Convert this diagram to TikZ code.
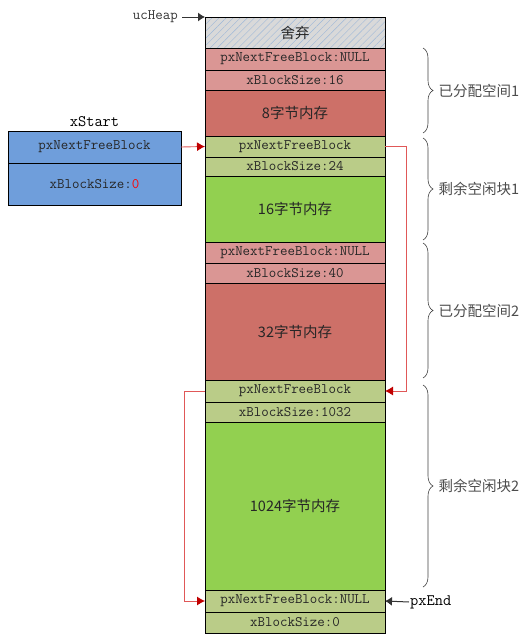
\documentclass[tikz,border=0pt]{standalone}
\usepackage{fontspec}
\renewcommand{\familydefault}{\ttdefault}
\newfontfamily\cjk{Noto Sans CJK SC}
\usetikzlibrary{positioning,patterns.meta,decorations.pathreplacing,arrows.meta}

\definecolor{wastegray}{HTML}{D9D9D9}
\definecolor{hatchblue}{HTML}{9DB7D8}
\definecolor{usedhdr}{HTML}{DA9694}
\definecolor{usedmem}{HTML}{CD7068}
\definecolor{freehdr}{HTML}{BACC88}
\definecolor{freemem}{HTML}{92D050}
\definecolor{startblue}{HTML}{6F9EDB}
\definecolor{linkred}{HTML}{E05858}
\definecolor{tipred}{HTML}{C00000}

\tikzset{
  cell/.style={draw,line width=0.8pt,minimum width=180pt,inner sep=0pt,outer sep=0pt,
    text=black!85,font=\fontsize{14.5}{16}\selectfont},
  startcell/.style={cell,minimum width=173pt,fill=startblue},
  memtext/.style={font=\cjk\fontsize{14.5}{16}\selectfont},
  brace/.style={decorate,decoration={brace,amplitude=10pt},draw=black!75,line width=0.6pt},
  spacelbl/.style={right=12pt,text=black!70,font=\cjk\fontsize{14.5}{16}\selectfont},
  link/.style={draw=linkred,line width=0.9pt,-{Latex[length=8pt,width=9pt,color=tipred]}},
  ptr/.style={draw=black!80,line width=1pt,-{Latex[length=7pt,width=9pt]}}
}

\begin{document}
\begin{tikzpicture}[x=1pt,y=-1pt]
\useasboundingbox (0,0) rectangle (531,640);

% heap
\node[cell,anchor=north,minimum height=31pt,memtext,
  preaction={fill=wastegray},pattern={Lines[angle=45,distance=5pt,line width=0.4pt]},
  pattern color=hatchblue] (waste) at (295,17) {舍弃};
\node[cell,fill=usedhdr,minimum height=22pt,below=0pt of waste] (used1hdr) {pxNextFreeBlock:NULL};
\node[cell,fill=usedhdr,minimum height=20pt,below=0pt of used1hdr] (used1size) {xBlockSize:16};
\node[cell,fill=usedmem,minimum height=46pt,memtext,below=0pt of used1size] (used1mem) {8字节内存};
\node[cell,fill=freehdr,minimum height=21pt,below=0pt of used1mem] (free1hdr) {pxNextFreeBlock};
\node[cell,fill=freehdr,minimum height=19pt,below=0pt of free1hdr] (free1size) {xBlockSize:24};
\node[cell,fill=freemem,minimum height=66pt,memtext,below=0pt of free1size] (free1mem) {16字节内存};
\node[cell,fill=usedhdr,minimum height=21pt,below=0pt of free1mem] (used2hdr) {pxNextFreeBlock:NULL};
\node[cell,fill=usedhdr,minimum height=20pt,below=0pt of used2hdr] (used2size) {xBlockSize:40};
\node[cell,fill=usedmem,minimum height=97pt,memtext,below=0pt of used2size] (used2mem) {32字节内存};
\node[cell,fill=freehdr,minimum height=22pt,below=0pt of used2mem] (free2hdr) {pxNextFreeBlock};
\node[cell,fill=freehdr,minimum height=20pt,below=0pt of free2hdr] (free2size) {xBlockSize:1032};
\node[cell,fill=freemem,minimum height=168pt,memtext,below=0pt of free2size] (free2mem) {1024字节内存};
\node[cell,fill=freehdr,minimum height=22pt,below=0pt of free2mem] (endhdr) {pxNextFreeBlock:NULL};
\node[cell,fill=freehdr,minimum height=21pt,below=0pt of endhdr] (endsize) {xBlockSize:0};

% xStart
\node[startcell,anchor=north,minimum height=32pt] (startnext) at (94.5,131) {pxNextFreeBlock};
\node[startcell,minimum height=42pt,below=0pt of startnext] (startsize) {xBlockSize:\textcolor{red}{0}};
\node[above=1pt of startnext,font=\fontsize{16}{18}\selectfont] (startlbl) {xStart};

% pointers
\node[anchor=east,inner sep=1pt,text=black!80,font=\fontsize{14.5}{16}\selectfont] (heaplbl) at (179,17) {ucHeap};
\draw[ptr] (heaplbl.east) ++(3,0) -- (waste.north west);
\node[anchor=west,inner sep=1pt,font=\fontsize{16}{18}\selectfont] (endlbl) at (409,602) {pxEnd};
\draw[ptr] (endlbl.west) -- (endhdr.east);

\draw[link] (startnext.east) -- (free1hdr.west);
\draw[link] (free1hdr.east) -- ++(21,0) |- (free2hdr.east);
\draw[link] (free2hdr.west) -- ++(-21,0) |- (endhdr.west);

% braces
\draw[brace] (423,48) -- (423,133) node[midway,spacelbl] (used1lbl) {已分配空间1};
\draw[brace] (423,138) -- (423,240) node[midway,spacelbl] (free1lbl) {剩余空闲块1};
\draw[brace] (423,243) -- (423,378) node[midway,spacelbl] (used2lbl) {已分配空间2};
\draw[brace] (423,385) -- (423,587) node[midway,spacelbl] (free2lbl) {剩余空闲块2};

\end{tikzpicture}
\end{document}
